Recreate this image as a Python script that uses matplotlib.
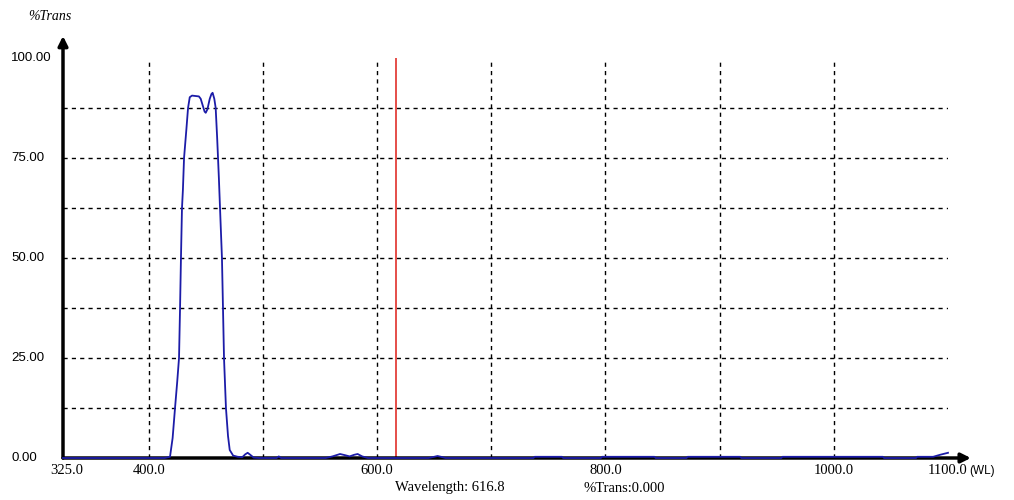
import numpy as np
import matplotlib.pyplot as plt

# -------------------------------
# spectrum
# -------------------------------
wavelength = [325, 400, 414, 418.7, 421, 423.1, 425, 426.6, 427.5, 428.3, 429.2,
              430, 431, 433, 434.5, 436, 438, 441, 444, 445.6, 447.5, 449, 450,
              451.5, 453.5, 455, 456, 457.5, 458.7, 460, 461.5, 462.5, 464.2,
              465.1, 466, 467.7, 469.5, 471, 474, 478, 482, 484.5, 486.7, 489,
              492, 497, 512, 514, 516, 555, 561, 567.6, 572, 576, 580, 583, 587,
              592, 645, 650, 653, 656, 660, 737, 738, 762, 763, 796, 797, 843,
              844, 871, 872, 918, 919, 954, 955, 1043, 1044, 1072, 1073, 1087,
              1093, 1100]
transmission = [0.0, 0.0, 0.0, 0.3, 5.0, 12.5, 19.0, 25.0, 37.5, 50.0, 62.5,
                67.0, 75.0, 82.0, 87.5, 90.2, 90.6, 90.5, 90.4, 89.8, 88.0, 86.6,
                86.3, 87.2, 89.8, 91.0, 91.3, 89.8, 87.5, 80.0, 70.0, 62.5, 50.0,
                37.5, 25.0, 12.5, 5.5, 2.0, 0.6, 0.3, 0.2, 0.9, 1.3, 0.8,
                0.1, 0.0, 0.0, 0.4, 0.0, 0.0, 0.4, 1.0, 0.7, 0.4, 0.8, 1.0, 0.4,
                0.0, 0.0, 0.3, 0.5, 0.3, 0.0, 0.0, 0.3, 0.3, 0.0, 0.0, 0.3, 0.3,
                0.0, 0.0, 0.3, 0.3, 0.0, 0.0, 0.3, 0.3, 0.0, 0.0, 0.3, 0.3,
                0.8, 1.3]

cursor_wl = 616.8
cursor_trans = 0.000

x_ticks = [325, 400, 600, 800, 1000, 1100]
x_ticklabels = ['325.0', '400.0', '600.0', '800.0', '1000.0', '1100.0']
y_ticks = [0, 25, 50, 75, 100]
y_ticklabels = ['0.00', '25.00', '50.00', '75.00', '100.00']
x_grid = [400, 500, 600, 700, 800, 900, 1000]
y_grid = [12.5, 25, 37.5, 50, 62.5, 75, 87.5]

# -------------------------------
# figure
# -------------------------------
fig = plt.figure(figsize=(10.14, 5.0), dpi=100)
ax = fig.add_axes([63/1014, 42/500, 885/1014, 400/500])
ax.set_xlim(325, 1100)
ax.set_ylim(0, 100)
for s in ax.spines.values():
    s.set_visible(False)
ax.set_xticks([])
ax.set_yticks([])

# dashed grid
for g in x_grid:
    ax.plot([g, g], [0, 100], color='black', lw=1, ls=(0, (3, 3)), zorder=1)
for g in y_grid:
    ax.plot([325, 1100], [g, g], color='black', lw=1, ls=(0, (3, 3)), zorder=1)

# axes with arrows
ax.annotate('', xy=(1120, 0), xytext=(325, 0),
            arrowprops=dict(arrowstyle='-|>', lw=2.5, color='black',
                            mutation_scale=14, shrinkA=0, shrinkB=0),
            annotation_clip=False, zorder=3)
ax.annotate('', xy=(325, 105.5), xytext=(325, 0),
            arrowprops=dict(arrowstyle='-|>', lw=2.5, color='black',
                            mutation_scale=14, shrinkA=0, shrinkB=0),
            annotation_clip=False, zorder=3)

# spectrum and cursor
ax.plot(wavelength, transmission, color='#1c1ca8', lw=1.3, zorder=4,
        clip_on=False)
ax.plot([cursor_wl, cursor_wl], [0, 100], color='#e0302a', lw=1.2, zorder=2)

# tick labels (left-aligned on the y side, like the instrument software)
for v, lab in zip(y_ticks, y_ticklabels):
    ax.text(279.5, v, lab, ha='left', va='center', fontsize=9.5,
            family='Liberation Sans', clip_on=False)
for v, lab in zip(x_ticks, x_ticklabels):
    if v == 1100:
        ax.text(v - 18, -1.5, lab, ha='left', va='top', fontsize=10.5,
                family='Liberation Serif', clip_on=False)
    else:
        xv = v + 3 if v == 325 else v
        ax.text(xv, -1.5, lab, ha='center', va='top', fontsize=10.5,
                family='Liberation Serif', clip_on=False)
ax.text(1119, -1.8, '(WL)', ha='left', va='top', fontsize=8.5,
        family='Liberation Sans', clip_on=False)

fig.text(28/1014, 1 - 17/500, '%Trans', ha='left', va='center', fontsize=10,
         family='Liberation Serif', style='italic')
fig.text(395/1014, 1 - 488/500, 'Wavelength: %.1f' % cursor_wl, ha='left',
         va='center', fontsize=10.5, family='Liberation Serif')
fig.text(583/1014, 1 - 488/500, '%%Trans:%.3f' % cursor_trans, ha='left',
         va='center', fontsize=10.5, family='Liberation Serif')

fig.savefig('out.png', dpi=100)
